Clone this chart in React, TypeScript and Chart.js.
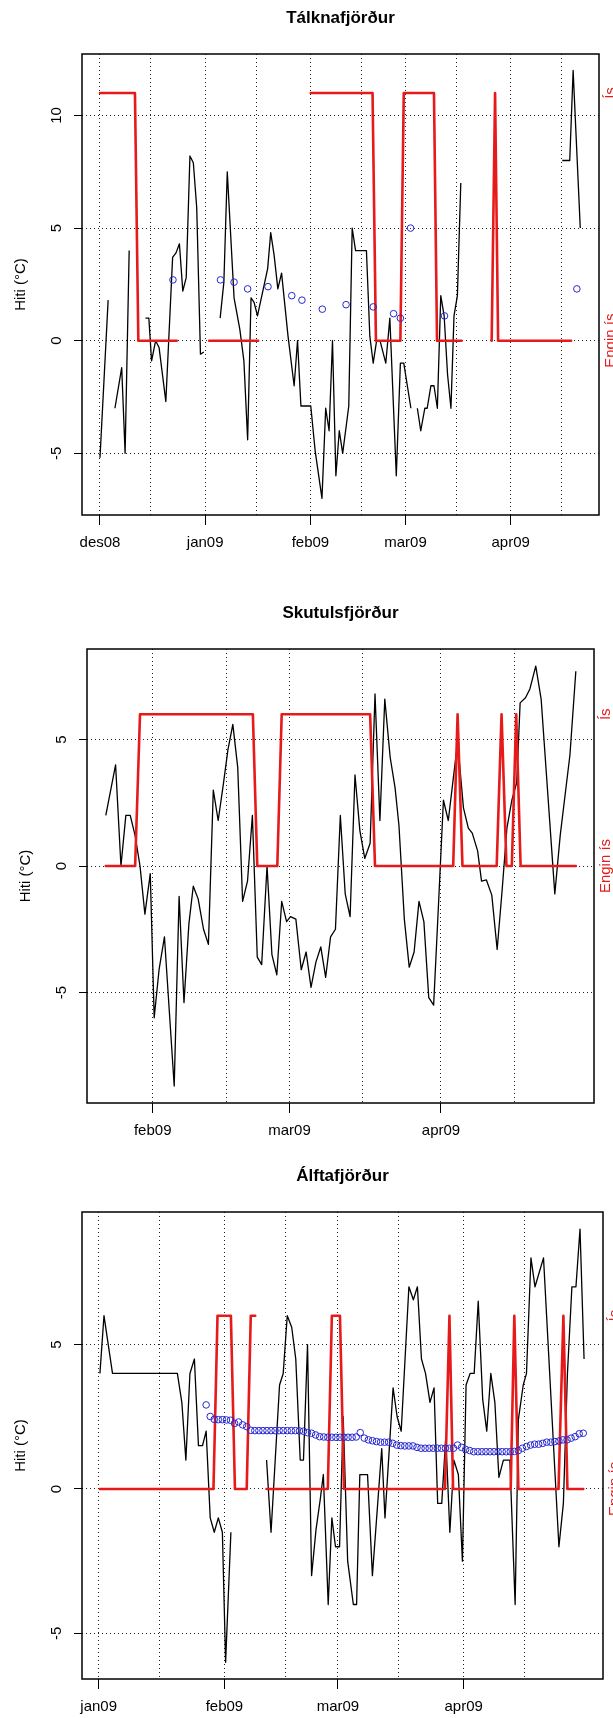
import React, { useEffect, useRef } from 'react';
import { Chart, registerables } from 'chart.js';

Chart.register(...registerables);

const FONT = '"Liberation Sans", Arial, Helvetica, sans-serif';
const RED = '#e61a1a';
const BLUE = '#2626d0';
const GRID = '#222';

type Pt = [number, number | null];

// ---- Tálknafjörður (x = days after 1 Dec 2008) ----
const talknaTemp: Pt[] = [
  [0, -5.2], [2.4, 1.8], [3.4, null],
  [4.4, -3.0], [6.4, -1.2], [7.4, -5.0], [8.6, 4.0], [11, null],
  [13.4, 1.0], [14.4, 1.0], [15.2, -0.9], [16.4, 0.0], [17.4, -0.3], [19.4, -2.7], [21.4, 3.7], [22.4, 3.9],
  [23.4, 4.3], [24.4, 2.2], [25.4, 2.8], [26.5, 8.2], [27.5, 7.9], [28.5, 5.9], [29.6, -0.6], [30.6, -0.5], [33, null],
  [35.4, 1.0], [36.5, 2.6], [37.5, 7.5], [39.5, 1.9], [41.2, 0.5], [42.4, -0.9], [43.5, -4.4], [44.5, 1.9],
  [45.4, 1.7], [46.4, 1.1], [48.4, 2.5], [49.4, 3.2], [50.3, 4.8], [51.3, 3.8], [52.4, 2.3], [53.5, 3.0],
  [55.4, 0.2], [57.2, -2.0], [58.2, 0.0], [59.2, -2.9], [62.1, -2.9], [63.4, -4.9], [65.4, -7.0], [66.5, -3.0],
  [67.5, -4.0], [68.5, 0.0], [69.5, -6.0], [70.5, -4.0], [71.5, -5.0], [73.3, -2.9], [74.3, 5.0], [75.3, 4.0],
  [78.5, 4.0], [79.5, 0.2], [80.5, -1.0], [81.5, 0.0], [82.5, 0.0], [84.2, -1.0], [85.4, 1.0], [87.3, -6.0],
  [88.5, -1.0], [89.5, -1.0], [91.6, -3.0], [92.5, null],
  [93.5, -3.0], [94.5, -4.0], [95.7, -3.0], [96.4, -3.0], [97.5, -2.0], [98.4, -2.0], [99.4, -3.0], [100.4, 2.0],
  [101.4, 1.1], [102.4, -1.5], [103.4, -3.0], [104.3, 1.1], [105.3, 2.0], [106.3, 7.0], [120, null],
  [136.2, 8.0], [138.4, 8.0], [139.4, 12.0], [141.5, 5.0],
];
const talknaIce: Pt[] = [
  [0, 11], [10.3, 11], [11.3, 0], [22.6, 0], [27, null],
  [32.2, 0], [46.6, 0], [54, null],
  [62.1, 11], [80.3, 11], [81.3, 0], [88.5, 0], [89.5, 11], [98.4, 11], [99.3, 0], [106.5, 0], [110, null],
  [115.4, 0], [116.4, 11], [117.3, 0], [138.8, 0],
];
const talknaSeaDays = [21.5, 35.5, 39.5, 43.5, 49.5, 56.5, 59.5, 65.5, 72.5, 80.5, 86.5, 88.5, 91.5, 101.5, 140.5];
const talknaSea = [2.7, 2.7, 2.6, 2.3, 2.4, 2.0, 1.8, 1.4, 1.6, 1.5, 1.2, 1.0, 5.0, 1.1, 2.3];
const talknaGridDays = [0, 15, 31, 46, 62, 77, 90, 105, 121, 136];
const talknaMonthDays = [0, 31, 62, 90, 121];
const talknaMonthLabels = ['des08', 'jan09', 'feb09', 'mar09', 'apr09'];
const talknaTempTicks = [-5, 0, 5, 10];

// ---- Skutulsfjörður (x = days after 1 Feb 2009) ----
const skutTemp: Pt[] = [
  [-9.6, 2.0], [-7.6, 4.0], [-6.5, 0.0], [-5.5, 2.0], [-4.6, 2.0], [-3.6, 1.2], [-2.6, 0.0], [-1.6, -1.9],
  [-0.5, -0.3], [0.3, -6.0], [1.3, -4.1], [2.4, -2.8], [4.4, -8.7], [5.4, -1.2], [6.4, -5.4], [7.4, -2.3],
  [8.3, -0.8], [9.3, -1.3], [10.4, -2.5], [11.4, -3.1], [12.4, 3.0], [13.4, 1.8], [14.5, 3.3], [15.4, 4.6],
  [16.4, 5.6], [17.4, 3.9], [18.4, -1.4], [19.4, -0.6], [20.4, 2.0], [21.4, -3.6], [22.3, -3.9], [23.4, 0.0],
  [24.4, -3.5], [25.4, -4.3], [26.4, -1.4], [27.4, -2.2], [28.2, -2.0], [29.3, -2.1], [30.4, -4.1], [31.4, -3.4],
  [32.4, -4.8], [33.4, -3.8], [34.4, -3.2], [35.4, -4.4], [36.4, -2.8], [37.4, -2.5], [38.4, 2.0], [39.4, -1.1],
  [40.4, -2.0], [41.4, 3.6], [42.4, 1.4], [43.4, 0.3], [44.5, 0.9], [45.5, 6.8], [46.5, 1.8], [47.5, 6.6],
  [48.6, 4.3], [49.6, 3.1], [50.4, 1.6], [51.5, -2.1], [52.5, -4.0], [53.5, -3.4], [54.5, -1.4], [55.5, -2.2],
  [56.5, -5.2], [57.5, -5.5], [58.4, -1.9], [59.5, 2.6], [60.5, 1.8], [62.4, 4.9], [63.6, 2.3], [64.6, 1.5],
  [65.4, 1.3], [66.5, 0.6], [67.3, -0.6], [68.3, -0.55], [69.4, -1.15], [70.5, -3.3], [71.5, -1.0], [72.5, 1.5],
  [73.5, 2.6], [74.5, 3.3], [75.2, 6.45], [76.3, 6.65], [77.2, 7.0], [78.4, 7.9], [79.5, 6.6], [82.3, -1.1],
  [83.4, 1.2], [85.4, 4.4], [86.6, 7.7],
];
const skutIce: Pt[] = [
  [-9.6, 0], [-3.6, 0], [-2.6, 6], [20.5, 6], [21.4, 0], [25.5, 0], [26.4, 6], [44.5, 6], [45.5, 0],
  [61.5, 0], [62.4, 6], [63.4, 0], [70.4, 0], [71.4, 6], [72.4, 0], [73.5, 0], [74.4, 6], [75.3, 0], [86.6, 0],
];
const skutGridDays = [0, 15, 28, 43, 59, 74];
const skutMonthDays = [0, 28, 59];
const skutMonthLabels = ['feb09', 'mar09', 'apr09'];
const skutTempTicks = [-5, 0, 5];

// ---- Álftafjörður (x = days after 1 Jan 2009) ----
const alftaTemp: Pt[] = [
  [0.3, 4.0], [1.3, 6.0], [3.4, 4.0], [19.4, 4.0], [20.5, 3.0], [21.5, 1.0], [22.5, 4.0], [23.6, 4.5],
  [24.6, 1.5], [25.6, 1.5], [26.5, 2.0], [27.5, -1.0], [28.5, -1.5], [29.5, -1.0], [30.5, -1.5], [31.3, -6.0],
  [32.6, -1.5], [37, null],
  [41.4, 1.0], [42.5, -1.5], [44.6, 3.6], [45.5, 4.0], [46.5, 6.0], [47.6, 5.6], [48.6, 4.5], [49.7, 1.0],
  [50.5, 1.0], [51.5, 5.0], [52.5, -3.0], [53.6, -1.4], [54.6, -0.4], [55.4, 0.5], [56.6, -4.0], [57.5, -1.0],
  [58.4, -2.0], [59.4, -2.0], [60.3, 2.5], [61.4, -2.5], [62.8, -4.0], [63.6, -4.0], [64.4, 0.5], [66.3, 0.5],
  [67.5, -3.0], [69.8, 1.4], [70.6, -1.0], [72.6, 3.5], [73.6, 2.5], [74.6, 2.0], [76.5, 7.0], [77.6, 6.55],
  [78.6, 7.0], [79.6, 4.5], [80.6, 4.0], [81.7, 3.0], [82.7, 3.5], [83.6, -0.5], [84.6, -0.5], [85.6, 1.8],
  [86.6, -1.5], [87.6, 1.0], [88.7, 0.5], [89.7, -2.5], [90.6, 3.6], [91.6, 4.0], [92.6, 4.0], [93.6, 6.5],
  [94.7, 3.1], [95.7, 2.0], [96.7, 4.0], [97.7, 3.0], [98.7, 0.4], [99.8, 1.0], [101.4, 1.0], [102.7, -4.0],
  [103.5, 2.4], [104.7, 3.6], [105.5, 4.0], [106.6, 8.0], [107.6, 7.0], [109.7, 8.0], [113.5, -2.0], [114.6, -0.5],
  [115.6, 4.0], [116.7, 7.0], [117.7, 7.0], [118.7, 9.0], [119.7, 4.5],
];
const alftaIce: Pt[] = [
  [0.3, 0], [28.3, 0], [29.3, 6], [32.6, 6], [33.6, 0], [36.5, 0], [37.5, 6], [38.6, 6], [40, null],
  [41.4, 0], [56.5, 0], [57.5, 6], [59.5, 6], [60.5, 0], [85.4, 0], [86.5, 6], [87.4, 0], [101.6, 0],
  [102.5, 6], [103.5, 0], [113.4, 0], [114.6, 6], [115.6, 0], [119.5, 0],
];
// daily sea temperature, first reading on day 26.5
const alftaSeaFirstDay = 26.5;
const alftaSea = [
  2.91, 2.51, 2.41, 2.40, 2.40, 2.39, 2.38, 2.27, 2.32, 2.22, 2.16,
  2.03, 2.02, 2.02, 2.02, 2.02, 2.02, 2.02, 2.02, 2.02, 2.02, 2.02, 2.02, 2.01, 2.00,
  1.95, 1.93, 1.87, 1.81, 1.80, 1.79, 1.79, 1.79, 1.79, 1.79, 1.79, 1.79, 1.80, 1.95,
  1.76, 1.70, 1.67, 1.64, 1.62, 1.62, 1.62, 1.58, 1.52, 1.50, 1.49, 1.49, 1.49, 1.44,
  1.41, 1.41, 1.41, 1.41, 1.41, 1.41, 1.41, 1.41, 1.41, 1.52, 1.44, 1.37, 1.33,
  1.29, 1.29, 1.29, 1.29, 1.29, 1.29, 1.29, 1.29, 1.29, 1.29, 1.30,
  1.33, 1.41, 1.47, 1.52, 1.55, 1.55, 1.58, 1.62, 1.62, 1.64, 1.66, 1.70, 1.70, 1.76, 1.81, 1.91, 1.93,
];
const alftaGridDays = [0, 15, 31, 46, 59, 74, 90, 105];
const alftaMonthDays = [0, 31, 59, 90];
const alftaMonthLabels = ['jan09', 'feb09', 'mar09', 'apr09'];
const alftaTempTicks = [-5, 0, 5];

const iceLabels = ['Engin ís', 'Ís'];

type PanelCfg = {
  title: string;
  top: number;
  height: number;
  box: { left: number; right: number; top: number; bottom: number };
  xMin: number; xMax: number; yMin: number; yMax: number;
  gridDays: number[]; monthDays: number[]; monthLabels: string[]; yTicks: number[];
  iceLevel: number;
  temp: Pt[]; ice: Pt[]; seaDays: number[]; sea: number[];
};

const panels: PanelCfg[] = [
  {
    title: 'Tálknafjörður', top: 0, height: 580,
    box: { left: 82, right: 599, top: 54, bottom: 515 },
    xMin: -5.3, xMax: 147.02, yMin: -7.74, yMax: 12.73,
    gridDays: talknaGridDays, monthDays: talknaMonthDays, monthLabels: talknaMonthLabels, yTicks: talknaTempTicks,
    iceLevel: 11, temp: talknaTemp, ice: talknaIce, seaDays: talknaSeaDays, sea: talknaSea,
  },
  {
    title: 'Skutulsfjörður', top: 580, height: 565,
    box: { left: 87, right: 594, top: 69, bottom: 523 },
    xMin: -13.45, xMax: 90.32, yMin: -9.37, yMax: 8.58,
    gridDays: skutGridDays, monthDays: skutMonthDays, monthLabels: skutMonthLabels, yTicks: skutTempTicks,
    iceLevel: 6, temp: skutTemp, ice: skutIce, seaDays: [], sea: [],
  },
  {
    title: 'Álftafjörður', top: 1145, height: 573,
    box: { left: 82, right: 603, top: 67, bottom: 534 },
    xMin: -4.12, xMax: 124.37, yMin: -6.58, yMax: 9.59,
    gridDays: alftaGridDays, monthDays: alftaMonthDays, monthLabels: alftaMonthLabels, yTicks: alftaTempTicks,
    iceLevel: 6, temp: alftaTemp, ice: alftaIce,
    seaDays: alftaSea.map((_, i) => alftaSeaFirstDay + i), sea: alftaSea,
  },
];

function verticalText(ctx: CanvasRenderingContext2D, text: string, x: number, y: number) {
  ctx.save();
  ctx.translate(x, y);
  ctx.rotate(-Math.PI / 2);
  ctx.textAlign = 'center';
  ctx.textBaseline = 'alphabetic';
  ctx.fillText(text, 0, 0);
  ctx.restore();
}

function Panel({ cfg }: { cfg: PanelCfg }) {
  const ref = useRef<HTMLCanvasElement>(null);

  useEffect(() => {
    const canvas = ref.current;
    if (!canvas) return;
    const b = cfg.box;
    const labelled = new Set(cfg.monthDays);

    const decor = {
      id: 'decor',
      afterDraw(chart: any) {
        const { ctx, chartArea: a, scales } = chart;
        const xs = scales.x;
        const ys = scales.y;
        ctx.save();
        ctx.strokeStyle = '#000';
        ctx.lineWidth = 1.5;
        ctx.strokeRect(a.left, a.top, a.right - a.left, a.bottom - a.top);

        ctx.fillStyle = '#000';
        ctx.font = `bold 17px ${FONT}`;
        ctx.textAlign = 'center';
        ctx.textBaseline = 'alphabetic';
        ctx.fillText(cfg.title, (a.left + a.right) / 2, a.top - 31);

        ctx.font = `15px ${FONT}`;
        cfg.monthDays.forEach((d, i) => {
          ctx.fillText(cfg.monthLabels[i], xs.getPixelForValue(d), a.bottom + 32);
        });
        for (const t of ys.ticks) {
          verticalText(ctx, String(t.value), a.left - 21, ys.getPixelForValue(t.value));
        }
        verticalText(ctx, 'Hiti (°C)', a.left - 57, (a.top + a.bottom) / 2);

        ctx.fillStyle = RED;
        verticalText(ctx, iceLabels[0], a.right + 16.3, ys.getPixelForValue(0));
        verticalText(ctx, iceLabels[1], a.right + 16.3, ys.getPixelForValue(cfg.iceLevel));
        ctx.restore();
      },
    };

    const chart = new Chart(canvas, {
      type: 'line',
      data: {
        datasets: [
          {
            label: 'sjór',
            data: cfg.seaDays.map((d, i) => ({ x: d, y: cfg.sea[i] })),
            showLine: false,
            pointRadius: 3.3,
            pointBorderWidth: 1,
            pointBorderColor: BLUE,
            pointBackgroundColor: 'rgba(0,0,0,0)',
            order: 0,
          },
          {
            label: 'ís',
            data: cfg.ice.map(([x, y]) => ({ x, y })),
            borderColor: RED,
            borderWidth: 2.6,
            borderJoinStyle: 'round',
            borderCapStyle: 'round',
            pointRadius: 0,
            order: 1,
          },
          {
            label: 'hiti',
            data: cfg.temp.map(([x, y]) => ({ x, y })),
            borderColor: '#000',
            borderWidth: 1.3,
            borderJoinStyle: 'round',
            pointRadius: 0,
            order: 2,
          },
        ],
      } as any,
      options: {
        responsive: false,
        maintainAspectRatio: false,
        devicePixelRatio: 1,
        animation: false,
        events: [],
        layout: { padding: { top: b.top, right: 613 - b.right, bottom: 0, left: 0 } },
        plugins: { legend: { display: false }, tooltip: { enabled: false }, title: { display: false } },
        scales: {
          x: {
            type: 'linear',
            position: 'bottom',
            min: cfg.xMin,
            max: cfg.xMax,
            bounds: 'data',
            afterBuildTicks: (s: any) => { s.ticks = cfg.gridDays.map((v) => ({ value: v })); },
            afterFit: (s: any) => { s.height = cfg.height - b.bottom; },
            ticks: { display: false, autoSkip: false },
            grid: {
              color: GRID,
              lineWidth: 1,
              drawTicks: true,
              tickLength: 10,
              tickColor: '#000',
              tickWidth: (c: any) => (labelled.has(c.tick?.value) ? 1 : 0),
            },
            border: { display: false, dash: [1, 3] },
          },
          y: {
            type: 'linear',
            position: 'left',
            min: cfg.yMin,
            max: cfg.yMax,
            bounds: 'data',
            afterBuildTicks: (s: any) => { s.ticks = cfg.yTicks.map((v) => ({ value: v })); },
            afterFit: (s: any) => { s.width = b.left; },
            ticks: { display: false, autoSkip: false },
            grid: { color: GRID, lineWidth: 1, drawTicks: true, tickLength: 8, tickColor: '#000', tickWidth: 1 },
            border: { display: false, dash: [1, 3] },
          },
        },
      } as any,
      plugins: [decor],
    });
    return () => chart.destroy();
  }, [cfg]);

  return (
    <canvas
      ref={ref}
      width={613}
      height={cfg.height}
      style={{ position: 'absolute', left: 0, top: cfg.top, width: 613, height: cfg.height }}
    />
  );
}

export default function App() {
  return (
    <div style={{ position: 'absolute', left: 0, top: 0, width: 613, height: 1718, background: '#fff', overflow: 'hidden' }}>
      {panels.map((p) => (
        <Panel key={p.title} cfg={p} />
      ))}
    </div>
  );
}
